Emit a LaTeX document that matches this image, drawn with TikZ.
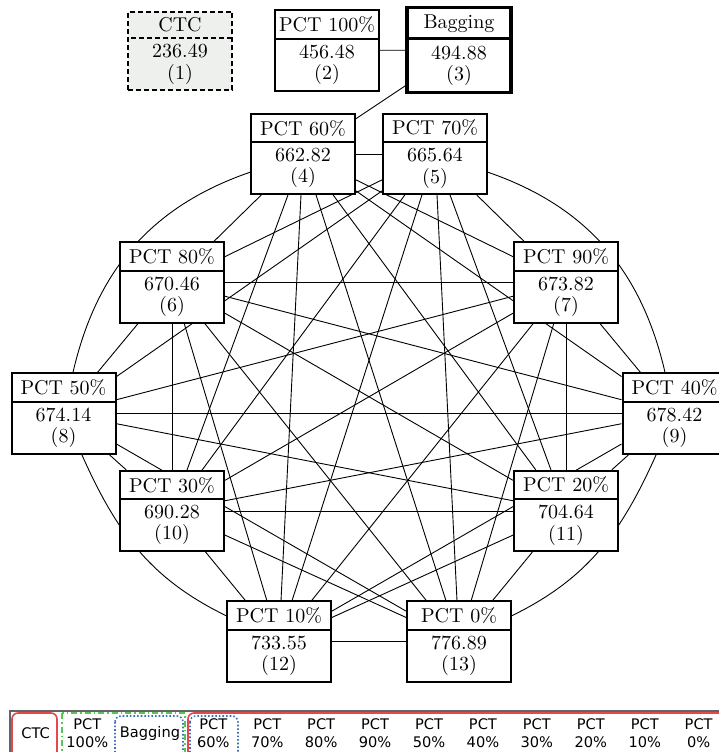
\documentclass[tikz,border=0pt]{standalone}
\usepackage{fontspec}
\setmainfont{lmroman10-regular.otf}
\newfontfamily\legendfont{DejaVu Sans}
\usetikzlibrary{shapes.multipart}
\pgfdeclarelayer{background}
\pgfsetlayers{background,main}
\definecolor{ctcgray}{RGB}{238,240,238}
\definecolor{legred}{RGB}{228,72,78}
\definecolor{leggreen}{RGB}{84,200,84}
\definecolor{legblue}{RGB}{60,110,188}
\definecolor{leggray}{RGB}{100,100,100}
\begin{document}
\begin{tikzpicture}[x=1pt,y=-1pt,
  box/.style={rectangle split, rectangle split parts=2, draw, fill=white,
    line width=2pt, inner xsep=3pt, inner ysep=5pt, text width=98pt,
    align=center, font=\fontsize{20}{21.5}\selectfont},
  ctcbox/.style={box, fill=ctcgray, dash pattern=on 5pt off 3pt},
  bagbox/.style={box, line width=3.2pt},
  edge/.style={line width=0.9pt},
  leg/.style={font=\legendfont\fontsize{14.6}{17.4}\selectfont, align=center, inner sep=0pt},
  redgroup/.style={draw=legred, line width=1.6pt, rounded corners=6pt},
  greengroup/.style={draw=leggreen, line width=1.6pt, dash pattern=on 6pt off 3pt on 1.5pt off 3pt},
  bluegroup/.style={draw=legblue, line width=1.6pt, dotted, rounded corners=6pt}]
\useasboundingbox (0,0) rectangle (718,752);

% nodes
\node[ctcbox] (n1) at (180,51) {CTC\nodepart{two}236.49\\(1)};
\node[box] (n2) at (327,50.5) {PCT 100\%\nodepart{two}456.48\\(2)};
\node[bagbox] (n3) at (459,50) {Bagging\nodepart{two}494.88\\(3)};
\node[box] (n4) at (303,154) {PCT 60\%\nodepart{two}662.82\\(4)};
\node[box] (n5) at (435,154) {PCT 70\%\nodepart{two}665.64\\(5)};
\node[box] (n6) at (172,282.5) {PCT 80\%\nodepart{two}670.46\\(6)};
\node[box] (n7) at (566,282.5) {PCT 90\%\nodepart{two}673.82\\(7)};
\node[box] (n8) at (63.5,413.5) {PCT 50\%\nodepart{two}674.14\\(8)};
\node[box] (n9) at (674.5,413.5) {PCT 40\%\nodepart{two}678.42\\(9)};
\node[box] (n10) at (172,511) {PCT 30\%\nodepart{two}690.28\\(10)};
\node[box] (n11) at (566,511) {PCT 20\%\nodepart{two}704.64\\(11)};
\node[box] (n12) at (279,641.5) {PCT 10\%\nodepart{two}733.55\\(12)};
\node[box] (n13) at (459,641.5) {PCT 0\%\nodepart{two}776.89\\(13)};

% connectors
\begin{pgfonlayer}{background}
\foreach \a/\b in {2/3,3/4,
  4/5,4/6,4/7,4/9,4/10,4/11,4/12,4/13,
  5/6,5/7,5/8,5/10,5/11,5/12,5/13,
  6/7,6/8,6/9,6/10,6/11,6/12,6/13,
  7/8,7/9,7/10,7/11,7/12,7/13,
  8/9,8/10,8/11,8/13,
  9/10,9/11,9/12,
  10/11,10/12,10/13,
  11/12,11/13,
  12/13}
  \draw[edge] (n\a) -- (n\b);
\draw[edge] (n4.199) to[out=199,in=77] (n8.77);
\draw[edge] (n8.294) to[out=294,in=154] (n12.154);
\draw[edge] (n5.341) to[out=341,in=103] (n9.103);
\draw[edge] (n9.246) to[out=246,in=26] (n13.26);
\end{pgfonlayer}

% legend panel
\draw[leggray, line width=2pt] (10,711) rectangle (770,800);
\draw[redgroup] (12,713) rectangle (57,800);
\draw[greengroup] (62,713) rectangle (185,800);
\draw[bluegroup] (115,716) rectangle (183,800);
\draw[redgroup] (188,713) rectangle (770,800);
\draw[bluegroup] (190,716) rectangle (238,800);

\node[leg] (l1) at (35.7,733) {CTC};
\node[leg] (l2) at (87.3,733) {PCT\\100\%};
\node[leg] (l3) at (150,733) {Bagging};
\foreach \t [count=\k from 0] in {60,70,80,90,50,40,30,20,10,0}
  \node[leg] (lp\t) at (213.3+53.93*\k,733) {PCT\\\t\%};
\end{tikzpicture}
\end{document}
